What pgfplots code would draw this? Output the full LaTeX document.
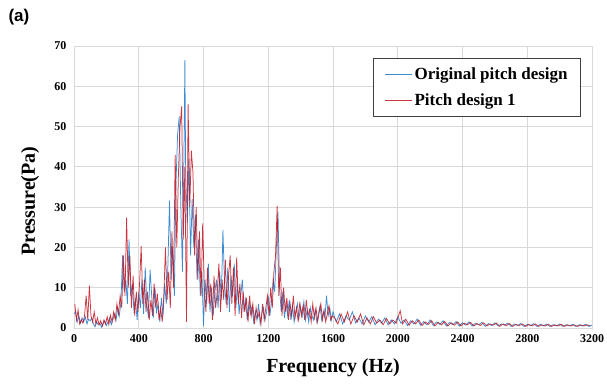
\documentclass[border=0pt]{standalone}
\usepackage{pgfplots}
\pgfplotsset{compat=1.18}
\usepackage{pgfplotstable}
\usepackage{fontspec}
\setmainfont{Liberation Serif}
\newfontfamily\arial{Liberation Sans}
\definecolor{origblue}{RGB}{40,128,205}
\definecolor{pitchred}{RGB}{196,18,30}
\definecolor{gridgray}{RGB}{217,217,217}

\pgfplotstableread{
x y
0 3.5
10 4.0
20 1.5
30 3.0
40 1.2
50 2.5
60 1.5
70 2.8
80 1.0
90 2.2
100 1.8
110 2.5
120 1.0
130 0.3
140 1.5
150 0.8
160 1.2
170 0.2
180 1.0
190 1.8
200 0.6
210 1.5
220 2.5
230 0.8
240 2.0
250 3.5
260 2.0
270 5.0
280 3.0
290 6.5
300 18.0
310 9.0
320 12.0
330 6.0
340 22.0
350 8.0
360 11.0
370 4.5
380 7.0
390 2.0
400 9.0
410 5.0
420 12.0
430 3.5
440 15.0
450 6.0
460 2.5
470 14.5
480 8.0
490 2.5
500 10.0
510 4.0
520 6.0
530 1.5
540 7.5
550 3.0
560 11.0
570 6.0
580 15.5
590 31.6
600 12.0
610 20.0
620 8.0
630 36.0
640 48.0
650 52.5
660 30.0
670 14.0
680 45.0
685 66.5
690 38.0
700 26.0
710 42.0
720 18.0
730 32.0
740 20.0
750 28.0
760 12.0
770 22.0
780 8.0
790 14.0
800 0.5
810 12.0
820 6.0
830 16.0
840 4.0
850 10.0
860 3.0
870 9.0
880 12.0
890 5.0
900 14.0
910 7.0
920 24.3
930 11.0
940 6.0
950 15.0
960 4.0
970 13.0
980 8.0
990 16.0
1000 5.0
1010 11.0
1020 3.5
1030 8.0
1040 12.0
1050 4.0
1060 7.0
1070 2.0
1080 6.0
1090 3.5
1100 5.5
1110 1.5
1120 4.0
1130 2.0
1140 6.0
1150 1.0
1160 3.5
1170 5.0
1180 2.0
1190 4.0
1200 8.0
1210 3.0
1220 6.5
1230 12.0
1240 9.0
1250 20.0
1260 28.9
1270 10.0
1280 4.0
1290 9.0
1300 2.5
1310 6.0
1320 3.0
1330 7.0
1340 2.0
1350 5.5
1360 1.5
1370 4.0
1380 6.0
1390 2.5
1400 5.0
1410 3.0
1420 6.5
1430 2.0
1440 4.5
1450 1.5
1460 5.0
1470 3.0
1480 2.0
1490 4.5
1500 1.5
1510 3.5
1520 5.5
1530 2.0
1540 4.0
1550 2.5
1560 8.0
1570 3.0
1580 5.0
1590 2.0
1600 4.0
1620 1.5
1640 3.5
1660 1.0
1680 3.0
1700 2.0
1720 4.0
1740 1.2
1760 2.5
1780 1.0
1800 3.0
1820 1.5
1840 2.8
1860 0.8
1880 2.2
1900 1.2
1920 2.5
1940 0.8
1960 2.0
1980 1.0
2000 2.8
2020 1.2
2040 2.0
2060 0.6
2080 1.8
2100 1.0
2120 2.2
2140 0.7
2160 1.6
2180 0.8
2200 2.0
2220 0.6
2240 1.5
2260 0.9
2280 1.8
2300 0.5
2320 1.4
2340 0.8
2360 1.6
2380 0.5
2400 1.3
2420 0.7
2440 1.5
2460 0.5
2480 1.2
2500 0.8
2520 1.4
2540 0.4
2560 1.1
2580 0.6
2600 1.3
2620 0.5
2640 1.0
2660 0.7
2680 1.2
2700 0.4
2720 1.0
2740 0.6
2760 1.1
2780 0.4
2800 0.9
2820 0.6
2840 1.1
2860 0.4
2880 0.9
2900 0.5
2920 1.0
2940 0.4
2960 0.8
2980 0.5
3000 1.0
3020 0.4
3040 0.8
3060 0.5
3080 0.9
3100 0.4
3120 0.8
3140 0.5
3160 0.9
3180 0.4
3200 0.7
}\origdata

\pgfplotstableread{
x y
5 6.0
15 2.0
25 4.5
35 1.0
45 2.0
55 1.2
65 3.0
75 8.0
85 2.0
95 10.5
105 3.0
115 1.5
125 4.0
135 1.0
145 2.5
155 0.8
165 1.8
175 0.5
185 2.0
195 1.0
205 2.8
215 0.8
225 3.2
235 1.5
245 4.0
255 2.0
265 6.0
275 3.5
285 8.0
295 5.0
305 18.0
315 8.0
325 27.4
335 10.0
345 18.0
355 5.0
365 13.0
375 3.0
385 9.0
395 4.0
405 11.0
415 20.3
425 6.0
435 12.0
445 4.0
455 9.0
465 2.0
475 7.0
485 3.0
495 11.0
505 5.0
515 8.5
525 2.0
535 5.0
545 1.5
555 8.0
565 20.0
575 7.0
585 14.0
595 5.0
605 24.0
615 10.0
625 43.0
635 20.0
645 38.0
655 50.0
665 55.0
675 22.0
685 40.0
695 1.5
705 55.5
715 30.0
725 44.0
735 38.5
745 18.0
755 30.0
765 12.0
775 24.0
785 8.0
795 26.0
805 10.0
815 4.0
825 15.0
835 6.0
845 11.0
855 2.0
865 13.0
875 5.0
885 9.0
895 16.0
905 4.0
915 12.0
925 7.0
935 17.0
945 5.0
955 13.0
965 18.0
975 6.0
985 15.0
995 3.0
1005 17.5
1015 6.0
1025 11.0
1035 2.5
1045 9.0
1055 4.0
1065 7.5
1075 1.5
1085 8.0
1095 3.0
1105 6.0
1115 1.0
1125 5.0
1135 2.5
1145 4.0
1155 1.0
1165 6.0
1175 2.0
1185 5.0
1195 8.0
1205 3.0
1215 10.0
1225 5.0
1235 14.0
1245 18.0
1255 30.3
1265 8.0
1275 15.0
1285 3.0
1295 10.0
1305 4.0
1315 7.5
1325 2.0
1335 6.0
1345 3.0
1355 8.0
1365 2.5
1375 5.0
1385 1.5
1395 6.5
1405 3.0
1415 5.5
1425 2.0
1435 7.0
1445 3.0
1455 4.5
1465 1.5
1475 6.0
1485 2.5
1495 5.0
1505 1.5
1515 4.0
1525 6.0
1535 2.0
1545 4.5
1555 1.5
1565 3.5
1575 5.5
1585 2.0
1595 3.0
1610 2.5
1630 1.0
1650 3.5
1670 1.5
1690 4.0
1710 1.0
1730 3.0
1750 1.5
1770 3.5
1790 0.8
1810 2.5
1830 1.0
1850 2.8
1870 1.2
1890 2.0
1910 0.8
1930 2.4
1950 1.0
1970 2.0
1990 1.2
2015 4.3
2030 1.0
2050 2.2
2070 0.7
2090 1.8
2110 1.0
2130 2.0
2150 0.6
2170 1.5
2190 0.9
2210 1.8
2230 0.5
2250 1.4
2270 0.8
2290 1.6
2310 0.5
2330 1.3
2350 0.7
2370 1.5
2390 0.5
2410 1.2
2430 0.8
2450 1.4
2470 0.5
2490 1.1
2510 0.6
2530 1.3
2550 0.5
2570 1.0
2590 0.7
2610 1.2
2630 0.4
2650 1.0
2670 0.6
2690 1.1
2710 0.4
2730 0.9
2750 0.6
2770 1.0
2790 0.4
2810 0.9
2830 0.5
2850 1.0
2870 0.4
2890 0.8
2910 0.5
2930 0.9
2950 0.4
2970 0.8
2990 0.5
3010 0.9
3030 0.4
3050 0.8
3070 0.5
3090 0.8
3110 0.4
3130 0.8
3150 0.5
3170 0.8
3190 0.5
}\pitchdata

\begin{document}
\begin{tikzpicture}[x=1pt,y=1pt]
\useasboundingbox (0,0) rectangle (607,383);
\node[anchor=west,font=\arial\bfseries\fontsize{17}{19}\selectfont] at (5,366) {(a)};
\begin{axis}[
  at={(74pt,55pt)}, anchor=south west,
  scale only axis, width=518pt, height=282pt,
  xmin=0, xmax=3200, ymin=0, ymax=70,
  xtick={0,400,...,3200}, ytick={0,10,...,70},
  grid=major,
  major grid style={color=gridgray, line width=0.9pt},
  axis line style={color=gridgray, line width=0.9pt},
  major tick length=0pt,
  /pgf/number format/assume math mode=true,
  /pgf/number format/set thousands separator={},
  tick label style={font=\bfseries\fontsize{12}{14}\selectfont},
  xticklabel style={yshift=-3pt},
  yticklabel style={xshift=-4pt},
  xlabel={Frequency (Hz)},
  ylabel={Pressure(Pa)},
  label style={font=\bfseries\fontsize{20}{22}\selectfont},
  xlabel style={at={(axis description cs:0.5,-0.14)}, anchor=center},
  ylabel style={at={(axis description cs:-0.085,0.45)}, anchor=center},
  legend style={at={(axis description cs:0.979,0.957)}, anchor=north east,
    draw=black!75, line width=1pt, fill=white,
    font=\bfseries\fontsize{17}{19}\selectfont,
    inner xsep=11pt, inner ysep=7pt, row sep=9pt,
    /tikz/every even column/.append style={column sep=0pt}},
  legend cell align=left,
  legend image code/.code={\draw[#1, line width=0.8pt] (0pt,0pt) -- (27pt,0pt);},
]
\addplot[color=origblue, line width=0.75pt, opacity=0.9] table[x=x,y=y] {\origdata};
\addlegendentry{Original pitch design}
\addplot[color=pitchred, line width=0.75pt, opacity=0.85] table[x=x,y=y] {\pitchdata};
\addlegendentry{Pitch design 1}
\end{axis}
\end{tikzpicture}
\end{document}
